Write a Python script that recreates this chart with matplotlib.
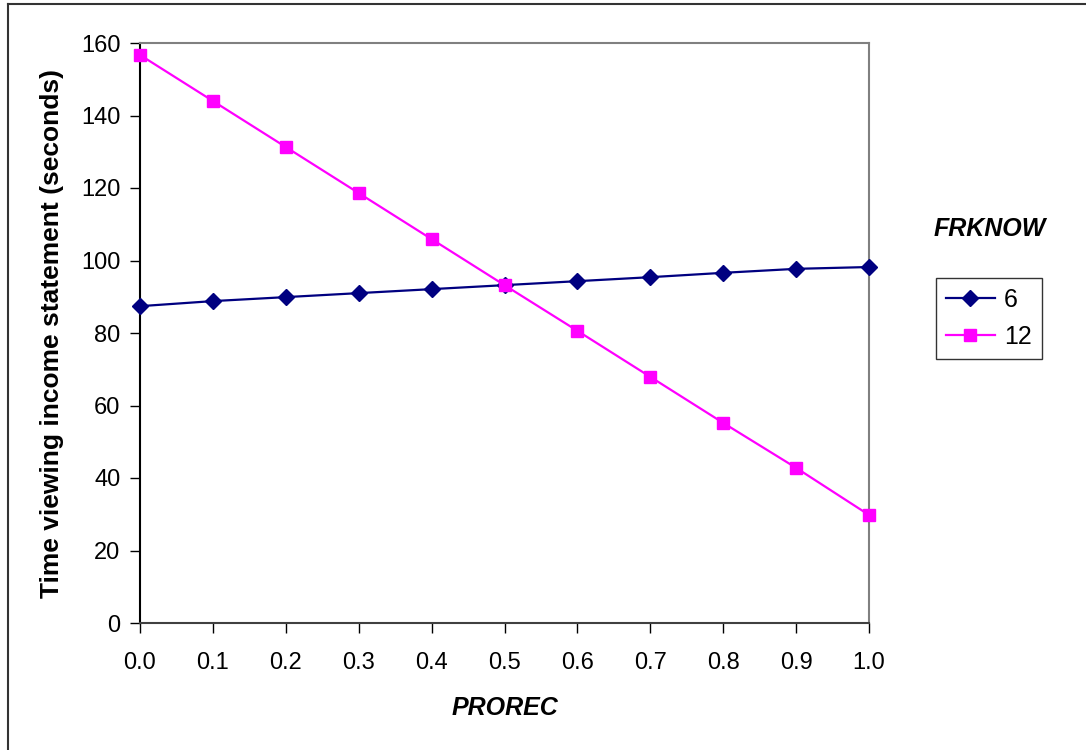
import matplotlib
matplotlib.use("Agg")
import matplotlib.pyplot as plt
from matplotlib.lines import Line2D

plt.rcParams['font.family'] = ['Liberation Sans', 'DejaVu Sans']

prorec = [0.0, 0.1, 0.2, 0.3, 0.4, 0.5, 0.6, 0.7, 0.8, 0.9, 1.0]
frknow_6 = [87.4, 88.8, 89.9, 91.0, 92.1, 93.2, 94.3, 95.4, 96.6, 97.7, 98.2]
frknow_12 = [156.7, 144.0, 131.3, 118.6, 105.9, 93.2, 80.6, 67.9, 55.2, 42.8, 29.8]
series_labels = ['6', '12']
xtick_labels = ['0.0', '0.1', '0.2', '0.3', '0.4', '0.5', '0.6', '0.7', '0.8', '0.9', '1.0']
yticks = [0, 20, 40, 60, 80, 100, 120, 140, 160]

fig = plt.figure(figsize=(10.86, 7.5), dpi=100)
ax = fig.add_axes([140/1086, 127/750, 729/1086, 580/750])

ax.plot(prorec, frknow_6, color='#000080', marker='D', markersize=8, lw=1.6,
        label=series_labels[0], clip_on=False, zorder=3)
ax.plot(prorec, frknow_12, color='#FF00FF', marker='s', markersize=9, lw=1.6,
        label=series_labels[1], clip_on=False, zorder=3)

ax.set_xlim(0, 1.0)
ax.set_ylim(0, 160)
ax.set_xticks(prorec)
ax.set_xticklabels(xtick_labels)
ax.set_yticks(yticks)
ax.tick_params(axis='both', direction='out', length=7, width=1, color='black')
ax.tick_params(axis='x', pad=14, labelsize=17)
ax.tick_params(axis='y', pad=7, labelsize=17)

for s in ['top', 'right']:
    ax.spines[s].set_color('#808080')
    ax.spines[s].set_linewidth(1.5)
ax.spines['bottom'].set_color('#404040')
ax.spines['bottom'].set_linewidth(1.5)
ax.spines['left'].set_color('black')
ax.spines['left'].set_linewidth(1.5)

ax.set_ylabel('Time viewing income statement (seconds)', fontsize=19,
              fontweight='bold', labelpad=12)
ax.set_xlabel('PROREC', fontsize=18, fontweight='bold', style='italic',
              labelpad=16)

leg = ax.legend(loc='upper left', bbox_to_anchor=(936/1086, 1 - 278/750),
                bbox_transform=fig.transFigure, fontsize=18, frameon=True,
                fancybox=False, edgecolor='black', handlelength=1.95,
                handletextpad=0.36, borderpad=0.4, labelspacing=0.5,
                borderaxespad=0)
leg.get_frame().set_linewidth(1.0)

fig.text(990/1086, 1 - 229/750, 'FRKNOW', fontsize=18, fontweight='bold',
         style='italic', ha='center', va='center')

fig.add_artist(Line2D([8/1086, 1], [1 - 4/750, 1 - 4/750],
                      transform=fig.transFigure, color='#333333', lw=1.5))
fig.add_artist(Line2D([8/1086, 8/1086], [0, 1 - 4/750],
                      transform=fig.transFigure, color='#333333', lw=1.5))

fig.savefig('out.png', dpi=100)
